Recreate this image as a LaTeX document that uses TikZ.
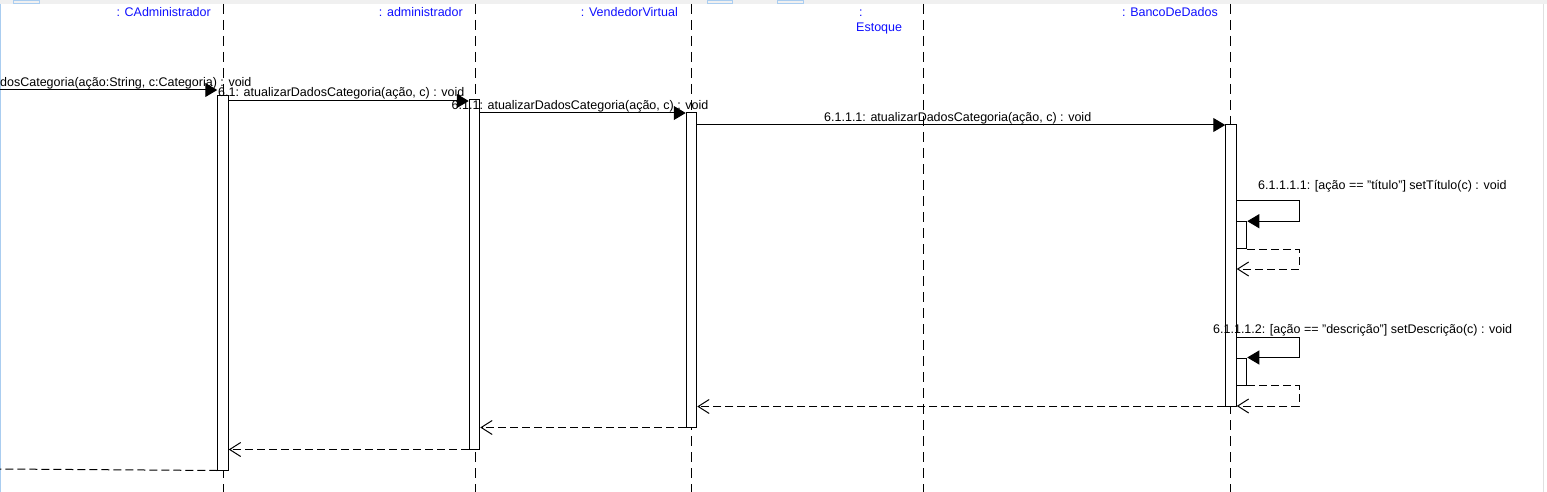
\documentclass[tikz,border=0pt]{standalone}
\usepackage{fontspec}
\setmainfont{Liberation Sans}
\usetikzlibrary{arrows.meta}
\definecolor{lblue}{RGB}{16,16,255}
\definecolor{topgray}{RGB}{240,240,240}
\definecolor{tabblue}{RGB}{170,205,240}
\tikzset{
  every node/.style={font=\fontsize{12.5}{15}\selectfont},
  lifeline/.style={line width=1pt, dash pattern=on 10pt off 6pt},
  actbar/.style={draw, fill=white, line width=1pt, minimum width=10.5pt, inner sep=0pt},
  msg/.style={line width=1pt, -{Triangle[length=12pt,width=14pt]}},
  ret/.style={line width=1pt, dash pattern=on 8pt off 4pt, -{Straight Barb[length=11pt,width=14pt]}},
  retplain/.style={line width=1pt, dash pattern=on 8pt off 4pt},
  head/.style={text=lblue, inner sep=0pt, anchor=base east},
  mlabel/.style={inner sep=0pt, anchor=base west}
}
\begin{document}
\begin{tikzpicture}[x=1pt,y=-1pt]
\useasboundingbox (0,0) rectangle (1547,492);
\fill[white] (0,0) rectangle (1547,492);
\fill[topgray] (0,0) rectangle (1547,4);
\draw[tabblue] (13,0) rectangle (39,3);
\draw[tabblue] (707,0) rectangle (732,3);
\draw[tabblue] (777,0) rectangle (803,3);
\draw[tabblue, line width=1pt] (0.5,4) -- (0.5,492);
\draw[black!12, line width=1pt] (1543,4) -- (1543,492);

% lifeline heads
\node[head] (h1) at (211,17) {: CAdministrador};
\node[head] (h2) at (463,17) {: administrador};
\node[head] (h3) at (678,17) {: VendedorVirtual};
\node[text=lblue, inner sep=0pt, anchor=base west] (h4a) at (859,17) {:};
\node[text=lblue, inner sep=0pt, anchor=base west] (h4) at (856,32) {Estoque};
\node[head] (h5) at (1218,17) {: BancoDeDados};

% lifelines
\coordinate (l1t) at (223,4);   \coordinate (l1b) at (223,492);
\coordinate (l2t) at (475,4);   \coordinate (l2b) at (475,492);
\coordinate (l3t) at (691.5,4); \coordinate (l3b) at (691.5,492);
\coordinate (l4t) at (923,4);   \coordinate (l4b) at (923,492);
\coordinate (l5t) at (1230.5,4);\coordinate (l5b) at (1230.5,492);
\draw[lifeline] (l1t) -- (l1b);
\draw[lifeline] (l2t) -- (l2b);
\draw[lifeline] (l3t) -- (l3b);
\draw[lifeline] (l4t) -- (l4b);
\draw[lifeline] (l5t) -- (l5b);

% activation bars
\node[actbar, minimum height=374pt] (a1) at (223,283) {};
\node[actbar, minimum height=349pt] (a2) at (474.5,274.5) {};
\node[actbar, minimum height=314pt] (a3) at (691.5,270) {};
\node[actbar, minimum height=281pt] (a4) at (1231,265.5) {};
\node[actbar, minimum height=27pt] (n1) at (1241.5,235.2) {};
\node[actbar, minimum height=27pt] (n2) at (1241.5,371.5) {};

% levels
\coordinate (y0) at (0,90);
\coordinate (y1) at (0,101);
\coordinate (y2) at (0,113);
\coordinate (y3) at (0,125);
\coordinate (ys1) at (0,200);
\coordinate (ys1r) at (0,269);
\coordinate (ys2) at (0,337.7);
\coordinate (ys2r) at (0,406);
\coordinate (yend) at (0,469);
\coordinate (loopx) at (1299,0);

% found message
\draw[msg] (y0) -- (a1.west |- y0);
\node[mlabel] (m0) at (0,87) {dosCategoria(ação:String, c:Categoria) : void};

% calls
\draw[msg] (a1.east |- y1) -- (a2.west |- y1);
\node[mlabel] (m1) at (218,97) {6.1: atualizarDadosCategoria(ação, c) : void};
\draw[msg] (a2.east |- y2) -- (a3.west |- y2);
\node[mlabel] (m2) at (451.5,110) {6.1.1: atualizarDadosCategoria(ação, c) : void};
\draw[msg] (a3.east |- y3) -- (a4.west |- y3);
\node[mlabel] (m3) at (824,121.5) {6.1.1.1: atualizarDadosCategoria(ação, c) : void};

% self call 1
\draw[msg] (a4.east |- ys1) -- (loopx |- ys1) -- (loopx |- n1.north) -- (n1.north east);
\node[mlabel] (m4) at (1258,189) {6.1.1.1.1: [ação == "título"] setTítulo(c) : void};
\draw[ret] (n1.south east) -- (loopx |- n1.south) -- (loopx |- ys1r) -- (a4.east |- ys1r);

% self call 2
\draw[msg] (a4.east |- ys2) -- (loopx |- ys2) -- (loopx |- n2.north) -- (n2.north east);
\node[mlabel] (m5) at (1213,333) {6.1.1.1.2: [ação == "descrição"] setDescrição(c) : void};
\draw[ret] (n2.south east) -- (loopx |- n2.south) -- (loopx |- ys2r) -- (a4.east |- ys2r);

% returns
\draw[ret] (a4.south west) -- (a3.east |- a4.south);
\draw[ret] (a3.south west) -- (a2.east |- a3.south);
\draw[ret] (a2.south west) -- (a1.east |- a2.south);
\draw[retplain] (a1.south west) -- (yend);
\end{tikzpicture}
\end{document}
